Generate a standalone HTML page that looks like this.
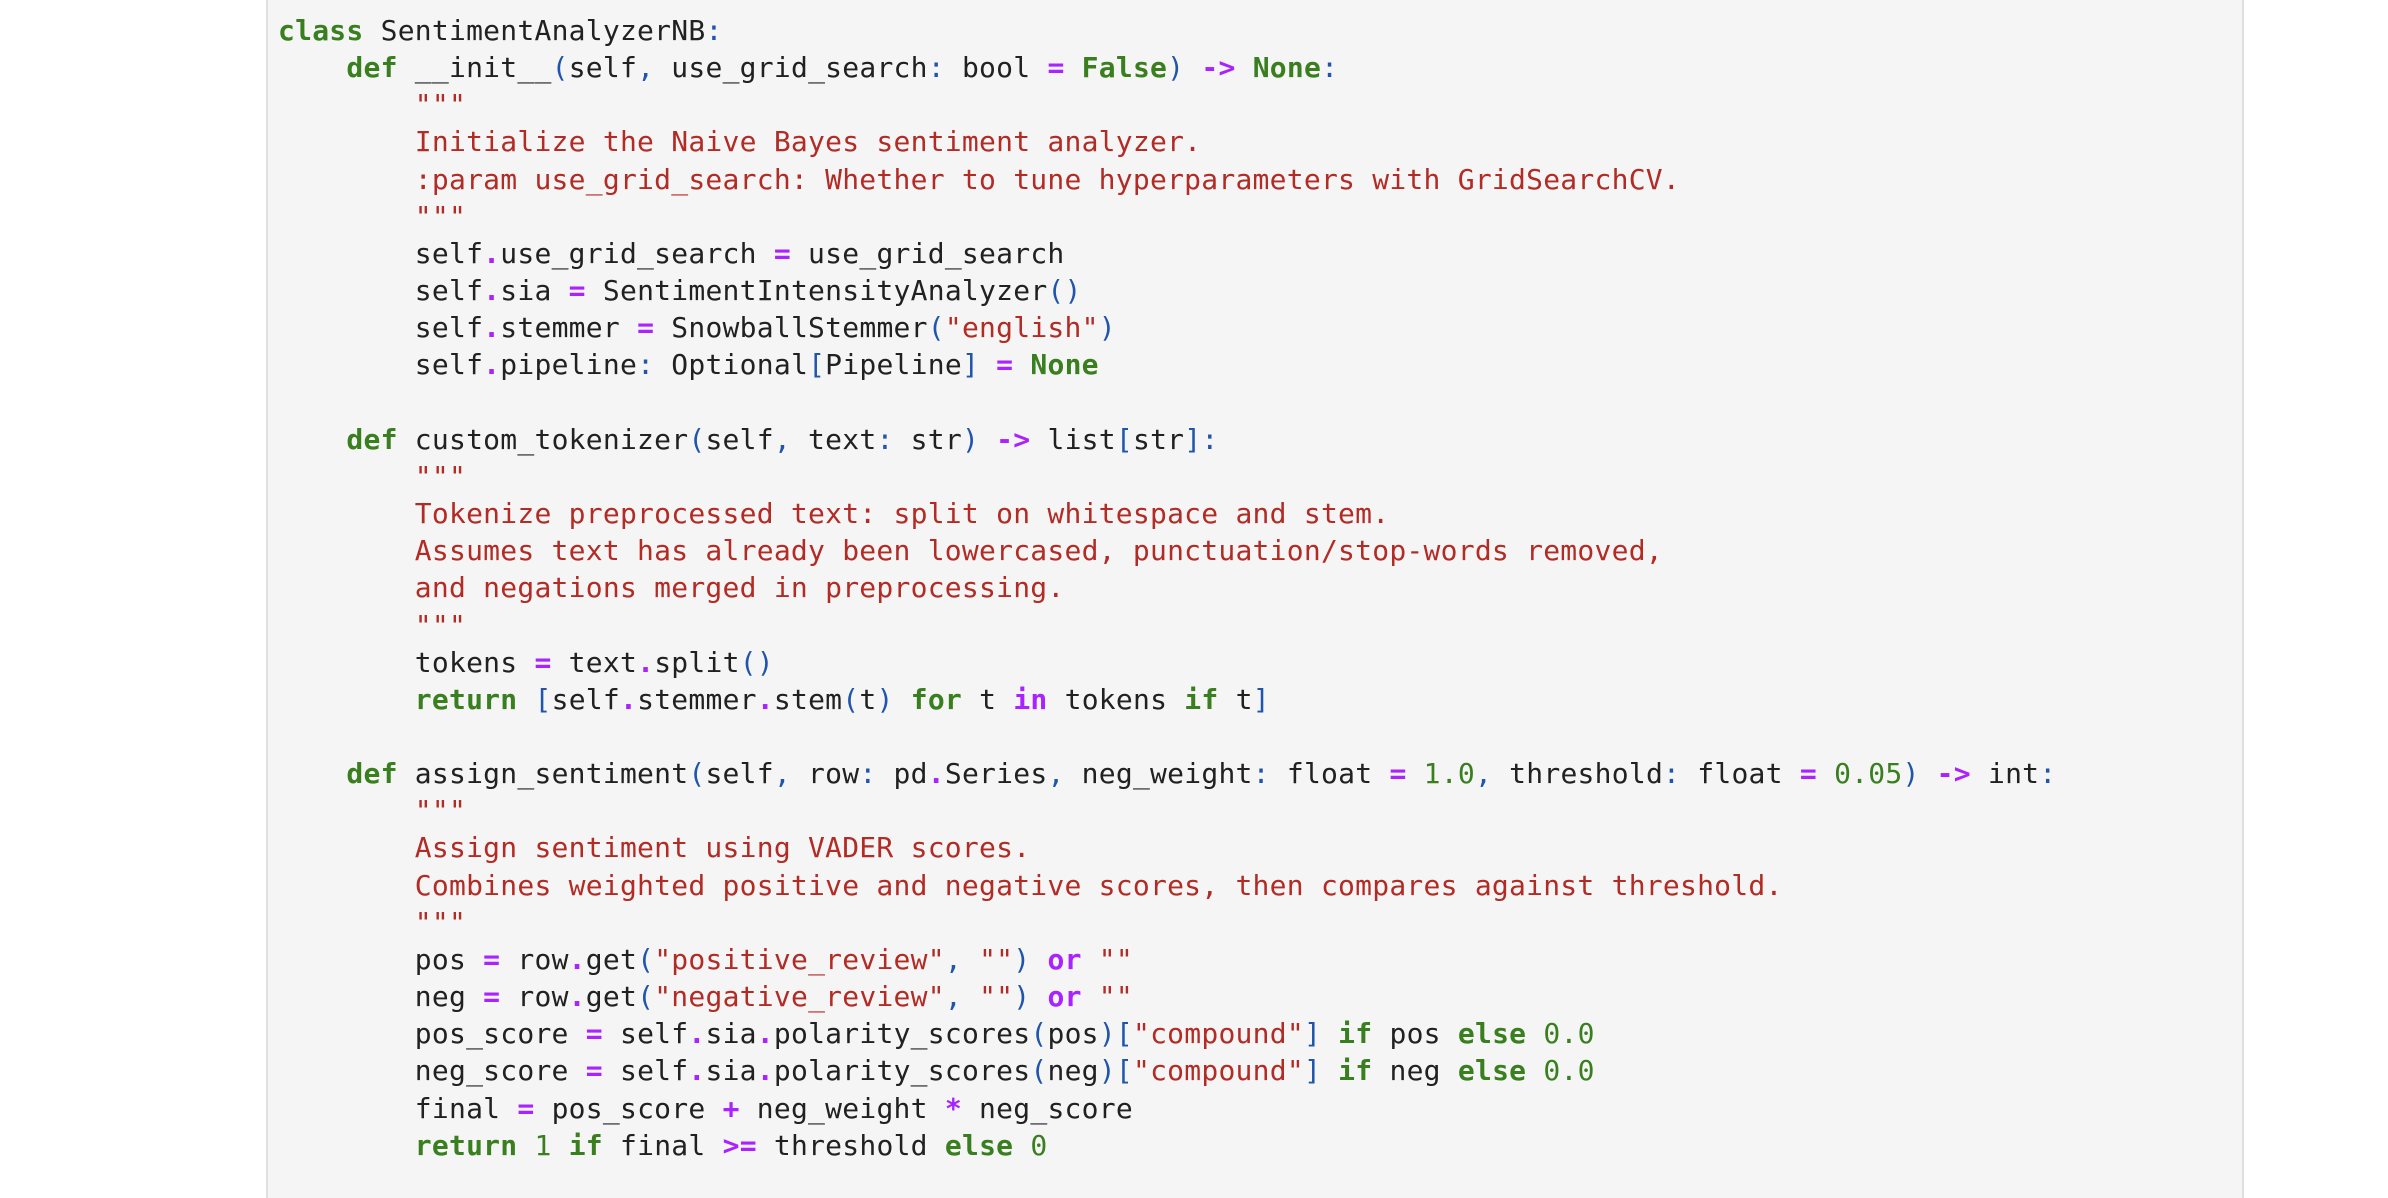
<!DOCTYPE html>
<html><head><meta charset="utf-8"><style>
html,body{margin:0;padding:0;background:#fff;width:2388px;height:1198px;overflow:hidden}
.panel{position:absolute;left:266px;top:0;width:1978px;height:1198px;background:#f5f5f5;border-left:2px solid #e0e0e0;border-right:2px solid #e0e0e0;box-sizing:border-box}
pre{position:absolute;left:278px;top:12px;margin:0;font-family:"DejaVu Sans Mono","Liberation Mono",monospace;font-size:28px;letter-spacing:0.24px;line-height:37.15px;color:#212121}
.k{color:#3a7f1f;font-weight:bold}
.s{color:#b22b25}
.o{color:#aa22ff;font-weight:bold}
.p{color:#1f55aa}
.n{color:#3a7f1f}
</style></head><body>
<div class="panel"></div>
<pre><span class="k">class</span> SentimentAnalyzerNB<span class="p">:</span>
    <span class="k">def</span> __init__<span class="p">(</span>self<span class="p">,</span> use_grid_search<span class="p">:</span> bool <span class="o">=</span> <span class="k">False</span><span class="p">)</span> <span class="o">-&gt;</span> <span class="k">None</span><span class="p">:</span>
        <span class="s">"""</span>
<span class="s">        Initialize the Naive Bayes sentiment analyzer.</span>
<span class="s">        :param use_grid_search: Whether to tune hyperparameters with GridSearchCV.</span>
<span class="s">        """</span>
        self<span class="o">.</span>use_grid_search <span class="o">=</span> use_grid_search
        self<span class="o">.</span>sia <span class="o">=</span> SentimentIntensityAnalyzer<span class="p">()</span>
        self<span class="o">.</span>stemmer <span class="o">=</span> SnowballStemmer<span class="p">(</span><span class="s">"english"</span><span class="p">)</span>
        self<span class="o">.</span>pipeline<span class="p">:</span> Optional<span class="p">[</span>Pipeline<span class="p">]</span> <span class="o">=</span> <span class="k">None</span>

    <span class="k">def</span> custom_tokenizer<span class="p">(</span>self<span class="p">,</span> text<span class="p">:</span> str<span class="p">)</span> <span class="o">-&gt;</span> list<span class="p">[</span>str<span class="p">]:</span>
        <span class="s">"""</span>
<span class="s">        Tokenize preprocessed text: split on whitespace and stem.</span>
<span class="s">        Assumes text has already been lowercased, punctuation/stop-words removed,</span>
<span class="s">        and negations merged in preprocessing.</span>
<span class="s">        """</span>
        tokens <span class="o">=</span> text<span class="o">.</span>split<span class="p">()</span>
        <span class="k">return</span> <span class="p">[</span>self<span class="o">.</span>stemmer<span class="o">.</span>stem<span class="p">(</span>t<span class="p">)</span> <span class="k">for</span> t <span class="o">in</span> tokens <span class="k">if</span> t<span class="p">]</span>

    <span class="k">def</span> assign_sentiment<span class="p">(</span>self<span class="p">,</span> row<span class="p">:</span> pd<span class="o">.</span>Series<span class="p">,</span> neg_weight<span class="p">:</span> float <span class="o">=</span> <span class="n">1.0</span><span class="p">,</span> threshold<span class="p">:</span> float <span class="o">=</span> <span class="n">0.05</span><span class="p">)</span> <span class="o">-&gt;</span> int<span class="p">:</span>
        <span class="s">"""</span>
<span class="s">        Assign sentiment using VADER scores.</span>
<span class="s">        Combines weighted positive and negative scores, then compares against threshold.</span>
<span class="s">        """</span>
        pos <span class="o">=</span> row<span class="o">.</span>get<span class="p">(</span><span class="s">"positive_review"</span><span class="p">,</span> <span class="s">""</span><span class="p">)</span> <span class="o">or</span> <span class="s">""</span>
        neg <span class="o">=</span> row<span class="o">.</span>get<span class="p">(</span><span class="s">"negative_review"</span><span class="p">,</span> <span class="s">""</span><span class="p">)</span> <span class="o">or</span> <span class="s">""</span>
        pos_score <span class="o">=</span> self<span class="o">.</span>sia<span class="o">.</span>polarity_scores<span class="p">(</span>pos<span class="p">)[</span><span class="s">"compound"</span><span class="p">]</span> <span class="k">if</span> pos <span class="k">else</span> <span class="n">0.0</span>
        neg_score <span class="o">=</span> self<span class="o">.</span>sia<span class="o">.</span>polarity_scores<span class="p">(</span>neg<span class="p">)[</span><span class="s">"compound"</span><span class="p">]</span> <span class="k">if</span> neg <span class="k">else</span> <span class="n">0.0</span>
        final <span class="o">=</span> pos_score <span class="o">+</span> neg_weight <span class="o">*</span> neg_score
        <span class="k">return</span> <span class="n">1</span> <span class="k">if</span> final <span class="o">&gt;=</span> threshold <span class="k">else</span> <span class="n">0</span>
</pre>
</body></html>
